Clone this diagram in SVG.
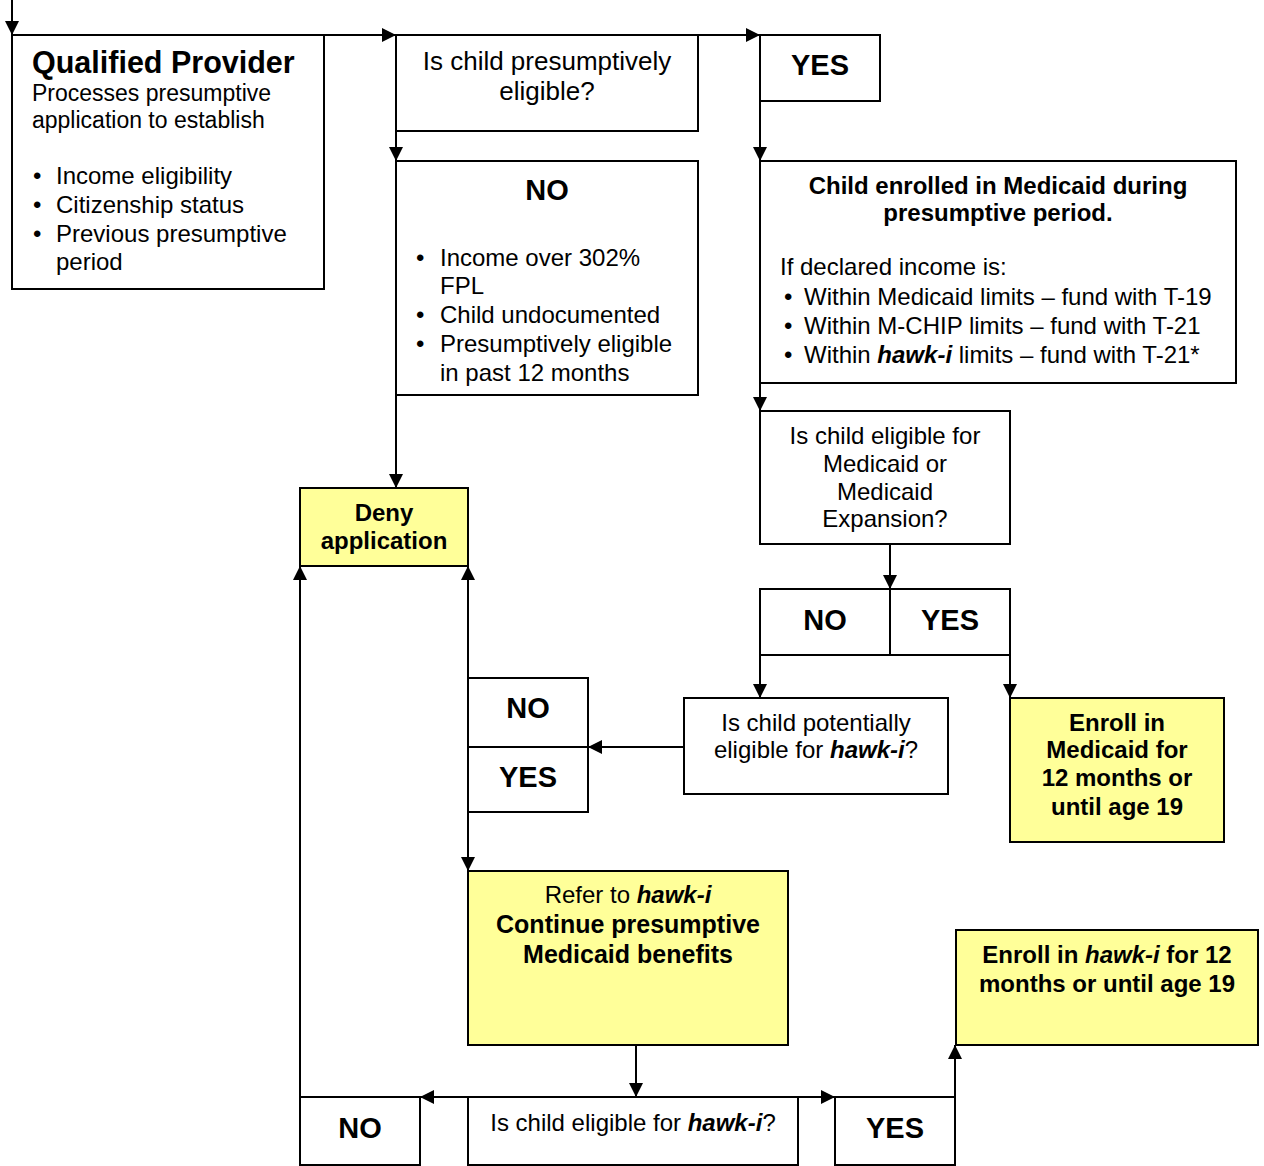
<svg xmlns="http://www.w3.org/2000/svg" width="1264" height="1166" viewBox="0 0 1264 1166">
<defs>
<marker id="ah" markerUnits="userSpaceOnUse" markerWidth="14" markerHeight="14" refX="14" refY="7" orient="auto">
<path d="M0,0 L14,7 L0,14 z" fill="#000"/>
</marker>
<style>
.box{fill:#fff;stroke:#000;stroke-width:2}
.yel{fill:#ffff99;stroke:#000;stroke-width:2}
.c{fill:none;stroke:#000;stroke-width:2;marker-end:url(#ah)}
text{font-family:"Liberation Sans",Arial,sans-serif;fill:#000}
.r{font-size:24px}
.rs{font-size:23px}
.b{font-size:24px;font-weight:bold}
.b25{font-size:25px;font-weight:bold}
.big{font-size:29px;font-weight:bold}
.m{text-anchor:middle}
.hi{font-weight:bold;font-style:italic}
</style>
</defs>
<rect width="1264" height="1166" fill="#fff"/>

<g id="qualified-provider">
<rect class="box" x="12" y="35" width="312" height="254"/>
<text x="32" y="73" style="font-size:30.5px;font-weight:bold">Qualified Provider</text>
<text class="rs" x="32" y="101">Processes presumptive</text>
<text class="rs" x="32" y="128">application to establish</text>
<text class="r" x="33" y="184">•</text><text class="r" x="56" y="184">Income eligibility</text>
<text class="r" x="33" y="213">•</text><text class="r" x="56" y="213">Citizenship status</text>
<text class="r" x="33" y="242">•</text><text class="r" x="56" y="242">Previous presumptive</text>
<text class="r" x="56" y="270">period</text>
</g>

<g id="presumptive-question">
<rect class="box" x="396" y="35" width="302" height="96"/>
<text class="m" x="547" y="70" style="font-size:26px">Is child presumptively</text>
<text class="m" x="547" y="100" style="font-size:26px">eligible?</text>
</g>

<g id="yes-top">
<rect class="box" x="760" y="35" width="120" height="66"/>
<text class="big m" x="820" y="75">YES</text>
</g>

<g id="no-top">
<rect class="box" x="396" y="161" width="302" height="234"/>
<text class="big m" x="547" y="200">NO</text>
<text class="r" x="416" y="266">•</text><text class="r" x="440" y="266">Income over 302%</text>
<text class="r" x="440" y="294">FPL</text>
<text class="r" x="416" y="323">•</text><text class="r" x="440" y="323">Child undocumented</text>
<text class="r" x="416" y="352">•</text><text class="r" x="440" y="352">Presumptively eligible</text>
<text class="r" x="440" y="381">in past 12 months</text>
</g>

<g id="enrolled-medicaid">
<rect class="box" x="760" y="161" width="476" height="222"/>
<text class="b m" x="998" y="194">Child enrolled in Medicaid during</text>
<text class="b m" x="998" y="221">presumptive period.</text>
<text class="r" x="780" y="275">If declared income is:</text>
<text class="r" x="784" y="305">•</text><text class="r" x="804" y="305">Within Medicaid limits – fund with T-19</text>
<text class="r" x="784" y="334">•</text><text class="r" x="804" y="334">Within M-CHIP limits – fund with T-21</text>
<text class="r" x="784" y="363">•</text><text class="r" x="804" y="363">Within <tspan class="hi">hawk-i</tspan> limits – fund with T-21*</text>
</g>

<g id="deny">
<rect class="yel" x="300" y="488" width="168" height="78"/>
<text class="b m" x="384" y="521">Deny</text>
<text class="b m" x="384" y="549">application</text>
</g>

<g id="medicaid-question">
<rect class="box" x="760" y="411" width="250" height="133"/>
<text class="r m" x="885" y="444">Is child eligible for</text>
<text class="r m" x="885" y="472">Medicaid or</text>
<text class="r m" x="885" y="500">Medicaid</text>
<text class="r m" x="885" y="527">Expansion?</text>
</g>

<g id="medicaid-no-yes">
<rect class="box" x="760" y="589" width="130" height="66"/>
<rect class="box" x="890" y="589" width="120" height="66"/>
<text class="big m" x="825" y="630">NO</text>
<text class="big m" x="950" y="630">YES</text>
</g>

<g id="potential-hawki-question">
<rect class="box" x="684" y="698" width="264" height="96"/>
<text class="r m" x="816" y="731">Is child potentially</text>
<text class="r m" x="816" y="758">eligible for <tspan class="hi">hawk-i</tspan>?</text>
</g>

<g id="enroll-medicaid">
<rect class="yel" x="1010" y="698" width="214" height="144"/>
<text class="b m" x="1117" y="731">Enroll in</text>
<text class="b m" x="1117" y="758">Medicaid for</text>
<text class="b m" x="1117" y="786">12 months or</text>
<text class="b m" x="1117" y="815">until age 19</text>
</g>

<g id="potential-no-yes">
<rect class="box" x="468" y="678" width="120" height="69"/>
<rect class="box" x="468" y="747" width="120" height="65"/>
<text class="big m" x="528" y="718">NO</text>
<text class="big m" x="528" y="787">YES</text>
</g>

<g id="refer-hawki">
<rect class="yel" x="468" y="871" width="320" height="174"/>
<text class="r m" x="628" y="903">Refer to <tspan class="hi">hawk-i</tspan></text>
<text class="b25 m" x="628" y="933">Continue presumptive</text>
<text class="b25 m" x="628" y="963">Medicaid benefits</text>
</g>

<g id="enroll-hawki">
<rect class="yel" x="956" y="930" width="302" height="115"/>
<text class="b m" x="1107" y="963">Enroll in <tspan font-style="italic">hawk-i</tspan> for 12</text>
<text class="b m" x="1107" y="992">months or until age 19</text>
</g>

<g id="hawki-question">
<rect class="box" x="468" y="1097" width="330" height="68"/>
<text class="r m" x="633" y="1131">Is child eligible for <tspan class="hi">hawk-i</tspan>?</text>
</g>

<g id="hawki-no">
<rect class="box" x="300" y="1097" width="120" height="68"/>
<text class="big m" x="360" y="1138">NO</text>
</g>

<g id="hawki-yes">
<rect class="box" x="835" y="1097" width="120" height="68"/>
<text class="big m" x="895" y="1138">YES</text>
</g>

<g id="connectors">
<path class="c" d="M12,0 V35"/>
<path class="c" d="M324,35 H396"/>
<path class="c" d="M698,35 H760"/>
<path class="c" d="M396,131 V161"/>
<path class="c" d="M760,101 V161"/>
<path class="c" d="M396,395 V488"/>
<path class="c" d="M760,383 V411"/>
<path class="c" d="M890,544 V589"/>
<path class="c" d="M760,655 V698"/>
<path class="c" d="M1010,655 V698"/>
<path class="c" d="M684,747 H588"/>
<path class="c" d="M468,678 V566"/>
<path class="c" d="M468,812 V871"/>
<path class="c" d="M636,1045 V1097"/>
<path class="c" d="M468,1097 H420"/>
<path class="c" d="M300,1097 V566"/>
<path class="c" d="M798,1097 H835"/>
<path class="c" d="M955,1097 V1045"/>
</g>
</svg>
